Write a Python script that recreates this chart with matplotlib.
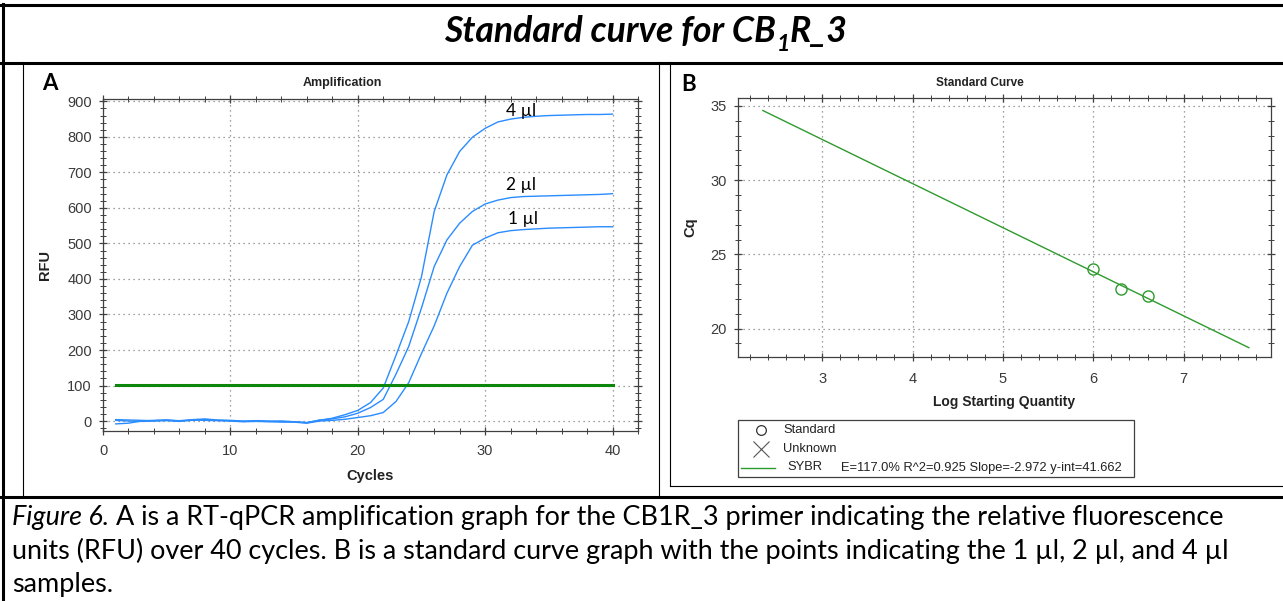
import matplotlib
matplotlib.use("Agg")
import matplotlib.pyplot as plt
from matplotlib.lines import Line2D
from matplotlib.patches import Rectangle
from matplotlib.ticker import MultipleLocator

W, H = 1283, 601

# panel A: amplification curves (RFU per cycle)
cycles = list(range(1, 41))
rfu_4ul = [-8, -6, 0, 2, 3, 1, 4, 6, 3, 2, 0, 1, 0, -1, -2, -4, 2, 8, 18, 30,
           52, 93, 185, 280, 406, 590, 693, 759, 799, 824, 842, 850, 855, 858, 860, 861,
           862, 863, 863, 864]
rfu_2ul = [4, 3, 2, 1, 3, 0, 2, 4, 2, 1, -1, 0, -1, 0, -2, -5, 3, 6, 12, 22,
           38, 61, 132, 210, 318, 435, 510, 557, 590, 611, 622, 629, 632, 633, 634, 635,
           636, 637, 638, 640]
rfu_1ul = [2, 0, -1, 0, 1, -1, 3, 2, 1, 0, -2, -1, -2, -3, -3, -6, 0, 2, 5, 10,
           15, 24, 55, 108, 190, 268, 360, 435, 495, 515, 530, 536, 539, 541, 543, 544,
           545, 546, 547, 547]
curve_names = ["4 µl", "2 µl", "1 µl"]
threshold = 102

# panel B: standard curve
log_qty = [6.0, 6.301, 6.602]
cq = [23.99, 22.64, 22.19]
slope = -2.972
intercept = 41.662
fit_x = [2.345, 7.72]
fit_text = "E=117.0% R^2=0.925 Slope=-2.972 y-int=41.662"

ARIAL = "Liberation Sans"
CALIBRI = ["Lato", "DejaVu Sans"]
BLUE = "#2a8cff"
GREEN = "#2e9a2e"
TICK = "#3a3a3a"

fig = plt.figure(figsize=(W / 100, H / 100), dpi=100)
fig.patch.set_facecolor("white")
renderer = fig.canvas.get_renderer()


def fx(x):
    return x / W


def fy(y):
    return 1 - y / H


def hline(y, x0, x1, lw):
    fig.add_artist(Line2D([fx(x0), fx(x1)], [fy(y), fy(y)], color="black", lw=lw,
                          transform=fig.transFigure))


def vline(x, y0, y1, lw):
    fig.add_artist(Line2D([fx(x), fx(x)], [fy(y0), fy(y1)], color="black", lw=lw,
                          transform=fig.transFigure))


def width_of(s, size, **kw):
    t = fig.text(0, 0, s, fontsize=size, **kw)
    w = t.get_window_extent(renderer).width
    t.remove()
    return w


def draw_runs(x, y, runs, size):
    # runs: (text, kwargs, size factor, baseline shift as fraction of size)
    for s, kw, f, dy in runs:
        if s == " ":
            x += width_of("x x", size, **kw) - width_of("xx", size, **kw)
            continue
        t = fig.text(fx(x), fy(y + dy * size), s, fontsize=size * f, va="baseline",
                     ha="left", **kw)
        x += t.get_window_extent(renderer).width


def runs_width(runs, size):
    tot = 0
    for s, kw, f, dy in runs:
        if s == " ":
            tot += width_of("x x", size, **kw) - width_of("xx", size, **kw)
        else:
            tot += width_of(s, size * f, **kw)
    return tot


# table frame
hline(5, 0, W, 2.2)
hline(62.5, 0, W, 2.2)
hline(497, 0, W, 2.2)
vline(3, 4, H, 2.2)
vline(659, 62, 497, 0.8)
vline(23, 62, 497, 0.8)
vline(670, 62, 486, 0.8)
hline(486, 670, W, 0.8)

# title
bi = dict(family=CALIBRI, weight="bold", style="italic", color="black")
title_runs = [("Standard curve for CB", bi, 1.0, 0), ("1", bi, 0.65, 0.36),
              ("R_3", bi, 1.0, 0)]
ts = 20 * 403 / runs_width(title_runs, 20)
draw_runs(646 - 403 / 2, 42, title_runs, ts)

# caption
it = dict(family=CALIBRI, style="italic", color="black")
rg = dict(family=CALIBRI, color="black")
line1 = [("Figure 6.", it, 1.0, 0), (" ", rg, 1, 0),
         ("A is a RT-qPCR amplification graph for the CB1R_3 primer indicating the relative fluorescence",
          rg, 1.0, 0)]
cs = 16 * 1218 / runs_width(line1, 16)
draw_runs(12, 525, line1, cs)
draw_runs(12, 558.5, [("units (RFU) over 40 cycles. B is a standard curve graph with the points "
                       "indicating the 1 µl, 2 µl, and 4 µl", rg, 1.0, 0)], cs)
draw_runs(12, 592, [("samples.", rg, 1.0, 0)], cs)

# panel A
axA = fig.add_axes([fx(103), fy(431), (638 - 103) / W, (431 - 98.5) / H])
axA.plot(cycles, rfu_4ul, color=BLUE, lw=1)
axA.plot(cycles, rfu_2ul, color=BLUE, lw=1)
axA.plot(cycles, rfu_1ul, color=BLUE, lw=1)
axA.plot([cycles[0], cycles[-1]], [threshold, threshold], color="#0c870c", lw=2.2)
for name, (lx, ly) in zip(curve_names, [(32.8, 873), (32.8, 665), (33.0, 569)]):
    axA.text(lx, ly, name, ha="center", va="center", fontsize=12.5, family=CALIBRI,
             color="black")
axA.set_xlim(0, 42)
axA.set_ylim(-28, 908)
axA.xaxis.set_major_locator(MultipleLocator(10))
axA.xaxis.set_minor_locator(MultipleLocator(2))
axA.yaxis.set_major_locator(MultipleLocator(100))
axA.yaxis.set_minor_locator(MultipleLocator(20))

axB = fig.add_axes([fx(738), fy(356.7), (1271 - 738) / W, (356.7 - 97.5) / H])
axB.plot(fit_x, [slope * v + intercept for v in fit_x], color=GREEN, lw=1)
axB.plot(log_qty, cq, linestyle="none", marker="o", markersize=8, mfc="none",
         mec=GREEN, mew=1)
axB.set_xlim(2.07, 7.965)
axB.set_ylim(18.11, 35.57)
axB.xaxis.set_major_locator(MultipleLocator(1))
axB.xaxis.set_minor_locator(MultipleLocator(0.2))
axB.yaxis.set_major_locator(MultipleLocator(5))
axB.yaxis.set_minor_locator(MultipleLocator(1))

for ax, xpad in ((axA, 6.5), (axB, 8)):
    for sp in ax.spines.values():
        sp.set_color("#404040")
        sp.set_linewidth(0.9)
    ax.grid(True, which="major", linestyle=(0, (1, 3)), color="#808080", lw=0.9)
    ax.tick_params(which="both", direction="inout", top=True, right=True,
                   color="#404040", labelcolor=TICK, labelsize=10.5)
    ax.tick_params(which="major", length=6, width=0.9)
    ax.tick_params(which="minor", length=4, width=0.7)
    ax.tick_params(axis="y", pad=5)
    ax.tick_params(axis="x", pad=xpad)
    for lab in ax.get_xticklabels() + ax.get_yticklabels():
        lab.set_family(ARIAL)

# panel labels and axis titles
fig.text(fx(50), fy(83), "A", ha="center", va="center", fontsize=16, weight="bold",
         family=CALIBRI)
fig.text(fx(689), fy(84.5), "B", ha="center", va="center", fontsize=16, weight="bold",
         family=CALIBRI)
fig.text(fx(342), fy(83), "Amplification", ha="center", va="center", fontsize=9,
         weight="bold", family=ARIAL, color="#222222")
fig.text(fx(980), fy(82.5), "Standard Curve", ha="center", va="center", fontsize=8.5,
         weight="bold", family=ARIAL, color="#222222")
fig.text(fx(45), fy(265), "RFU", ha="center", va="center", rotation=90, fontsize=10.5,
         weight="bold", family=ARIAL, color="#222222")
fig.text(fx(370), fy(476), "Cycles", ha="center", va="center", fontsize=10.5,
         weight="bold", family=ARIAL, color="#222222")
fig.text(fx(690), fy(227), "Cq", ha="center", va="center", rotation=90, fontsize=10.5,
         weight="bold", family=ARIAL, color="#222222")
fig.text(fx(1004), fy(402), "Log Starting Quantity", ha="center", va="center",
         fontsize=10, weight="bold", family=ARIAL, color="#222222")

# legend of panel B
fig.add_artist(Rectangle((fx(738), fy(477)), (1134 - 738) / W, (477 - 420) / H,
                         transform=fig.transFigure, fill=False, ec="#404040", lw=0.9))
fig.add_artist(Line2D([fx(761)], [fy(430)], marker="o", markersize=7, mfc="none",
                      mec="#333333", mew=0.9, transform=fig.transFigure))
fig.add_artist(Line2D([fx(761)], [fy(448.5)], marker="x", markersize=11,
                      color="#555555", mew=0.8, transform=fig.transFigure))
fig.add_artist(Line2D([fx(741), fx(775)], [fy(467.5), fy(467.5)], color=GREEN, lw=1,
                      transform=fig.transFigure))
for txt, x, y in (("Standard", 783, 430), ("Unknown", 783, 448.5), ("SYBR", 787, 467.5),
                  (fit_text, 841, 467.5)):
    fig.text(fx(x), fy(y), txt, ha="left", va="center", fontsize=9.3, family=ARIAL,
             color="#222222")

fig.savefig("out.png", dpi=100, facecolor="white")
